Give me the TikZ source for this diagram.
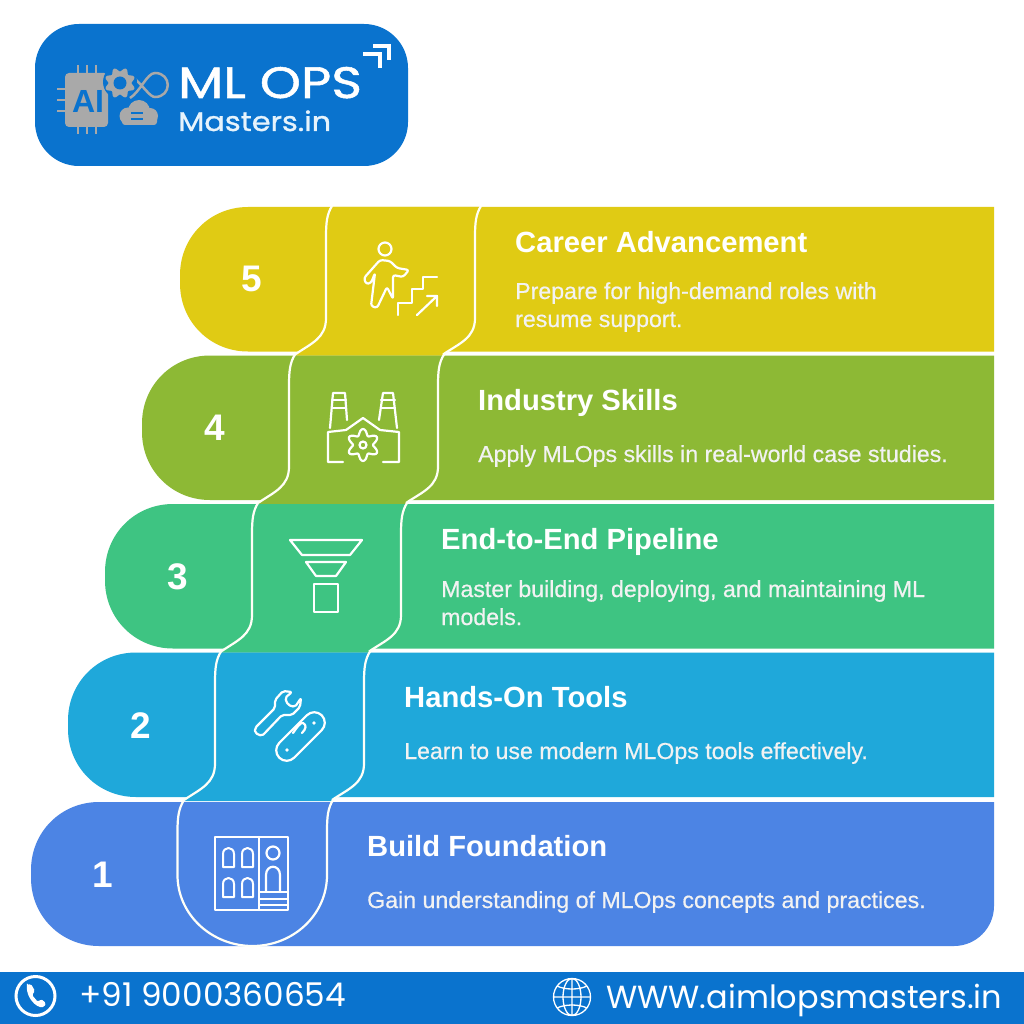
\documentclass[tikz,border=0pt]{standalone}
\usepackage{fontspec}
\setmainfont{Liberation Sans}
\newfontfamily\descfont[FakeBold=0.6]{Liberation Sans}
\newfontfamily\footfont{Poppins}
\newfontfamily\logofont[FakeBold=1.2,FakeStretch=1.19]{Poppins}
\newfontfamily\mastersfont[FakeBold=1.2,FakeStretch=1.125]{Poppins}
\definecolor{brandblue}{HTML}{0A73CE}
\definecolor{bandA}{HTML}{4C84E4}
\definecolor{bandB}{HTML}{1FA8DA}
\definecolor{bandC}{HTML}{3EC482}
\definecolor{bandD}{HTML}{8DB935}
\definecolor{bandE}{HTML}{E0CB14}
\definecolor{chipgrey}{HTML}{A9A9A9}
\definecolor{softwhite}{HTML}{E6F3FC}
\tikzstyle{title}=[anchor=base west,inner sep=0pt,text=white,font=\fontsize{29.2}{29}\selectfont\bfseries]
\tikzstyle{desc}=[anchor=base west,inner sep=0pt,text=white!95!black,font=\fontsize{23.15}{28}\descfont]
\tikzstyle{number}=[inner sep=0pt,text=white,font=\fontsize{37}{37}\selectfont\bfseries]
\tikzstyle{foot}=[anchor=base west,inner sep=0pt,text=white,font=\fontsize{32}{32}\footfont]
\tikzstyle{icon}=[draw=white,line width=2.2pt,line join=round,line cap=round]
\tikzstyle{seam}=[draw=white!97!yellow,line width=2.2pt]

\begin{document}
\begin{tikzpicture}[x=1pt,y=-1pt]
     \useasboundingbox (0,0) rectangle (1024,1024);
     \fill[white] (0,0) rectangle (1024,1024);

     % bands
     \foreach \x/\top/\col in {180/207/bandE, 142/355.5/bandD, 105/504/bandC, 68/652.5/bandB}
     \fill[\col] (994,\top) -- (\x+68,\top) .. controls (\x+30,\top) and (\x,\top+30) .. (\x,\top+68)
        -- (\x,\top+76.5) .. controls (\x,\top+114.5) and (\x+30,\top+144.5) .. (\x+68,\top+144.5)
        -- (994,\top+144.5) -- cycle;
     \fill[bandA] (994,802) -- (99,802) .. controls (61,802) and (31,832) .. (31,870)
        -- (31,878) .. controls (31,916) and (61,946) .. (99,946)
        -- (954,946) .. controls (976,946) and (994,928) .. (994,906) -- cycle;

     % necks between the bands
     \foreach \k/\col in {0/bandE, 1/bandD, 2/bandC, 3/bandB}
     \fill[\col,xshift=-37*\k,yshift=-148.5*\k] (331.5,207) .. controls (327,214) and (326,222) .. (326,237)
        -- (326,318) .. controls (326,338) and (312,343) .. (294,355.5)
        -- (442,355.5) .. controls (460,343) and (475,338) .. (475,318)
        -- (475,237) .. controls (475,222) and (476,214) .. (480.5,207) -- cycle;
     \foreach \k in {0,1,2,3}
     {
     \path[seam,xshift=-37*\k,yshift=-148.5*\k] (332,206) .. controls (327,214) and (326,222) .. (326,237)
        -- (326,318) .. controls (326,338) and (312,343) .. (295,354.5);
     \path[seam,xshift=-37*\k,yshift=-148.5*\k] (481,206) .. controls (476,214) and (475,222) .. (475,237)
        -- (475,318) .. controls (475,338) and (460,343) .. (443,354.5);
     }
     \path[seam] (184,800) .. controls (179,808) and (177.5,816) .. (177.5,831) -- (177.5,875)
        .. controls (177.5,915) and (212,946) .. (252.5,946)
        .. controls (293,946) and (327,915) .. (327,875) -- (327,831)
        .. controls (327,816) and (328,808) .. (333,800);

     % texts of the bands
     \foreach \name/\tx/\ty/\dy/\head/\body in {
       five/515/252/299/{Career Advancement}/{Prepare for high-demand roles with},
       four/478/410/462/{Industry Skills}/{Apply MLOps skills in real-world case studies.},
       three/441/549/597/{End-to-End Pipeline}/{Master building, deploying, and maintaining ML},
       two/404/707/759/{Hands-On Tools}/{Learn to use modern MLOps tools effectively.},
       one/367/856/908/{Build Foundation}/{Gain understanding of MLOps concepts and practices.}}
     {
     \node[title] (t\name) at (\tx,\ty) {\head};
     \node[desc] (d\name) at (\tx,\dy) {\body};
     }
     \foreach \name/\nx/\ny/\lab in {five/252/279/5, four/215/428/4, three/178/577/3, two/141/726/2, one/103/875/1}
     \node[number] (n\name) at (\nx,\ny) {\lab};
     \node[desc] (dfiveb) at (515,327) {resume support.};
     \node[desc] (dthreeb) at (441,625) {models.};

     % person on stairs
     \draw[icon] (385,249) circle (6.5);
     \draw[icon,rounded corners=2.5pt] (380,260) -- (364,278) -- (366,284) -- (371,283) -- (375,273)
        -- (371,306) -- (377,308) -- (387,287) -- (393,299) -- (393,275) -- (403,277) -- (409,270)
        -- (397,268) -- (390,261) -- cycle;
     \draw[icon] (398,315) -- (398,303) -- (412,303) -- (412,289) -- (423,289) -- (423,277) -- (437,277);
     \draw[icon] (417,315) -- (437,296) (427,296) -- (437,296) -- (437,306);

     % factory
     \draw[icon] (330,428) -- (333,393) -- (345,393) -- (347,420);
     \draw[icon] (379,420) -- (383,393) -- (393,393) -- (397,428);
     \draw[icon] (332,400) -- (346,400) (332,408) -- (346,408) (381,400) -- (395,400) (381,408) -- (395,408);
     \draw[icon] (343,462) -- (328,462) -- (328,432) -- (346,430) -- (363,418) -- (380,430) -- (399,432)
        -- (399,462) -- (383,462);
     \draw[icon] plot[domain=0:360,samples=73] ({363+(13-3*cos(6*\x))*cos(\x)},{445+(13-3*cos(6*\x))*sin(\x)});
     \draw[icon] (363,445) circle (3.5);

     % funnel
     \draw[icon] (290,540) -- (362,540) -- (350,555) -- (302,555) -- cycle;
     \draw[icon] (306,562) -- (346,562) -- (336,576) -- (316,576) -- cycle;
     \draw[icon] (314,584) rectangle (338,612);

     % wrench and pocket tool
     \draw[icon,rounded corners=2pt] (255,728) -- (275,708) -- (275,700) -- (283,691) -- (292,692)
        -- (285,698) -- (288,705) -- (295,707) -- (301,698) -- (300,707) -- (292,715) -- (282,715)
        -- (262,736) -- (255,733) -- cycle;
     \node[draw=white,line width=2.2pt,rounded corners=10.5pt,minimum width=60pt,minimum height=21pt,
        inner sep=0pt,rotate=45] (tool) at (300.5,736.5) {};
     \draw[icon] (293,733) .. controls (297,727) and (301,722) .. (303,723) .. controls (307,725) and (306,729) .. (302,733);
     \fill[white] (287,750) circle (1.8) (314,723) circle (1.8);

     % panel with doors
     \draw[icon] (215,837) rectangle (288,910);
     \draw[icon] (259,837) -- (259,910);
     \foreach \wx/\wy in {223/848, 242/848, 223/878, 242/878}
     \draw[icon,line width=2pt] (\wx,\wy+19) -- (\wx,\wy+6) .. controls (\wx,\wy-2) and (\wx+11,\wy-2) .. (\wx+11,\wy+6)
        -- (\wx+11,\wy+19) -- cycle;
     \draw[icon] (273,853) circle (6.5);
     \draw[icon] (266,891) -- (266,875) .. controls (266,864) and (280,864) .. (280,875) -- (280,891);
     \draw[icon,line width=1.7pt] (259,892) -- (288,892) (259,899) -- (288,899) (259,905) -- (288,905);

     % logo
     \fill[brandblue,rounded corners=44pt] (35,24) rectangle (408,166);
     \fill[chipgrey,rounded corners=4pt] (65,73) rectangle (108,127);
     \foreach \k in {0,1,2}
     {
     \draw[chipgrey,line width=2.2pt] (78+9*\k,65) -- (78+9*\k,73);
     \draw[chipgrey,line width=2.2pt] (78+9*\k,127) -- (78+9*\k,134);
     \draw[chipgrey,line width=2.2pt] (57,89+11*\k) -- (65,89+11*\k);
     }
     \node[inner sep=0pt,text=brandblue,font=\fontsize{32}{32}\selectfont\bfseries] (ailabel) at (88,101) {AI};
     \draw[chipgrey,line width=2.5pt] (134,78) .. controls (145,88) and (150,97) .. (155,97)
        .. controls (172,97) and (172,73) .. (155,73) .. controls (147,73) and (140,92) .. (130,98);
     \fill[brandblue] (120,82) circle (17);
     \fill[chipgrey] plot[domain=0:360,samples=73] ({120+(13.5-2*cos(8*\x))*cos(\x)},{83+(13.5-2*cos(8*\x))*sin(\x)});
     \fill[brandblue] (120,83) circle (6.5);
     \fill[chipgrey] (128,116) circle (8.5);
     \fill[chipgrey] (139,111) circle (11);
     \fill[chipgrey] (150,116) circle (8);
     \fill[chipgrey,rounded corners=3pt] (122,114) rectangle (157,125);
     \draw[brandblue,line width=1.8pt] (131,113) -- (143,113) (131,119) -- (143,119);
     \node[anchor=base west,inner sep=0pt,text=white,font=\fontsize{44}{44}\logofont] (mlops) at (178,98) {ML OPS};
     \node[anchor=base west,inner sep=0pt,text=softwhite,font=\fontsize{27}{27}\mastersfont] (masters) at (178,131) {Masters.in};
     \draw[white,line width=3.4pt] (373,46) -- (389,46) -- (389,60) (363,54) -- (380,54) -- (380,68);

     % footer
     \fill[brandblue] (0,972) rectangle (1024,1024);
     \draw[white,line width=3pt] (35.5,996) circle (19.5);
     \fill[white,rounded corners=1.5pt] (27,985) -- (31,984) -- (35,991) -- (32,995) -- (38,1002) -- (41,999) -- (46,1003)
        -- (44,1007) .. controls (36,1008) and (26,997) .. cycle;
     \node[foot,font=\fontsize{32.7}{32}\footfont] (phone) at (79,1006) {+91 9000360654};
     \draw[white,line width=1.3pt] (572,997) circle (18.5) (572,997) ellipse (9 and 18.5) (553.5,997) -- (590.5,997)
        (572,978.5) -- (572,1015.5) (557,986) .. controls (565,990) and (579,990) .. (587,986)
        (557,1008) .. controls (565,1004) and (579,1004) .. (587,1008);
     \node[foot] (site) at (606,1008) {WWW.aimlopsmasters.in};
\end{tikzpicture}
\end{document}
